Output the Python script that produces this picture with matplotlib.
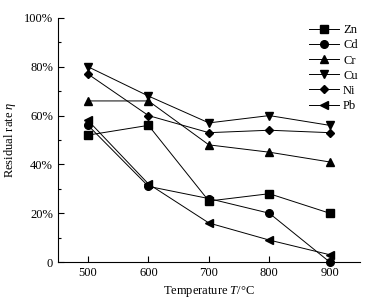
import matplotlib.pyplot as plt
from matplotlib.ticker import MultipleLocator, FuncFormatter

plt.rcParams['font.family'] = ['Liberation Serif', 'DejaVu Serif']
plt.rcParams['mathtext.fontset'] = 'custom'
plt.rcParams['mathtext.rm'] = 'Liberation Serif'
plt.rcParams['mathtext.it'] = 'Liberation Serif:italic'

temps = [500, 600, 700, 800, 900]
zn = [52, 56, 25, 28, 20]
cd = [56, 31, 26, 20, 0]
cr = [66, 66, 48, 45, 41]
cu = [80, 68, 57, 60, 56]
ni = [77, 60, 53, 54, 53]
pb = [58, 32, 16, 9, 3]

series = [("Zn", zn, "s"), ("Cd", cd, "o"), ("Cr", cr, "^"),
          ("Cu", cu, "v"), ("Ni", ni, "D"), ("Pb", pb, "<")]

fig = plt.figure(figsize=(3.73, 3.04), dpi=100)
ax = fig.add_axes([0.155, 0.138, 0.81, 0.803])

for name, vals, m in series:
    ms = 4.5 if m == "D" else 5.5
    ax.plot(temps, vals, color="black", marker=m, markersize=ms,
            linewidth=0.7, label=name, clip_on=False)

ax.set_xlim(450, 950)
ax.set_ylim(0, 100)
ax.set_xticks(temps)
ax.yaxis.set_major_locator(MultipleLocator(20))
ax.yaxis.set_minor_locator(MultipleLocator(10))
ax.yaxis.set_major_formatter(FuncFormatter(lambda v, p: "0" if v == 0 else f"{int(v)}%"))
ax.tick_params(direction="in", labelsize=9, length=4, width=0.8)
ax.tick_params(which="minor", direction="in", length=2, width=0.8)
for s in ["top", "right"]:
    ax.spines[s].set_visible(False)

ax.set_xlabel("Temperature $T$/°C", fontsize=9)
ax.set_ylabel(r"Residual rate $\eta$", fontsize=9)
ax.legend(loc="upper right", bbox_to_anchor=(1.03, 1.02), frameon=False,
          fontsize=9, handlelength=2.4, labelspacing=0.25, handletextpad=0.3)

fig.savefig("out.png", dpi=100)
